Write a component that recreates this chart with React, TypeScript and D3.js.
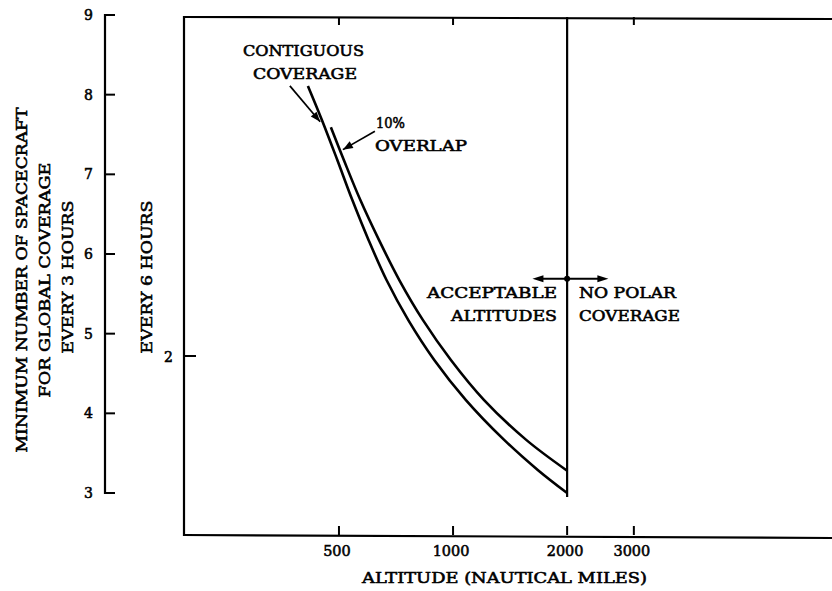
import React from "react";
import * as d3 from "d3";

// ---- data (altitude in nautical miles, N = spacecraft for every-3-hours coverage) ----
const contiguousAlt = [414, 451, 495, 542, 598, 668, 762, 892, 1080, 1362, 1673, 2000];
const contiguousN = [8.11, 7.68, 7.18, 6.68, 6.18, 5.67, 5.17, 4.67, 4.17, 3.67, 3.29, 3.0];
const overlapAlt = [476, 515, 569, 637, 722, 833, 987, 1206, 1557, 2000];
const overlapN = [7.59, 7.18, 6.68, 6.18, 5.67, 5.17, 4.67, 4.17, 3.67, 3.28];

const yTicks3h = [3, 4, 5, 6, 7, 8, 9];
const yTicks6hLabels = ["2"];
const yTicks6hValues = [4.72]; // position expressed in 3-hour units
const xTicksBottom = [500, 1000, 2000, 3000];
const xTicksTop = [500, 1000, 3000];
const limitAltitude = 2000;
const limitBottomN = 2.95;
const arrowN = 5.69;
const arrowAlts = [1620, 2570];

// annotation arrows [fromAlt, fromN, toAlt, toN]
const contiguousPointer = [371, 8.11, 446, 7.66];
const overlapPointer = [622, 7.54, 512, 7.31];

const W = 832;
const H = 591;
const FONT = "'DejaVu Serif', 'Liberation Serif', serif";

export default function App() {
  const x = d3.scaleLog().domain([195, 10000]).range([184, 832]);
  const y = d3.scaleLinear().domain([3, 9]).range([493, 15]);

  const line = d3
    .line<[number, number]>()
    .x((d) => x(d[0]))
    .y((d) => y(d[1]))
    .curve(d3.curveCatmullRom.alpha(0.5));

  const cPts = contiguousAlt.map((a, i) => [a, contiguousN[i]] as [number, number]);
  const oPts = overlapAlt.map((a, i) => [a, overlapN[i]] as [number, number]);

  const frameLeft = 184;
  const frameTop = 17;
  const frameBottom = 535;
  const axis3x = 105;

  const txt = (
    s: string,
    xx: number,
    yy: number,
    len: number | null,
    size = 14,
    extra: any = {}
  ) => (
    <text
      key={s + xx + yy}
      x={xx}
      y={yy}
      fontSize={size}
      fontFamily={FONT}
      textLength={len ?? undefined}
      lengthAdjust={len ? "spacingAndGlyphs" : undefined}
      fill="#000"
      stroke="#000"
      strokeWidth={0.55}
      {...extra}
    >
      {s}
    </text>
  );

  const arrowHead = (x1: number, y1: number, x2: number, y2: number, len = 9, wid = 3.5) => {
    const ang = Math.atan2(y2 - y1, x2 - x1);
    const bx = x2 - len * Math.cos(ang);
    const by = y2 - len * Math.sin(ang);
    const px = -Math.sin(ang) * wid;
    const py = Math.cos(ang) * wid;
    return `M${x2},${y2}L${bx + px},${by + py}L${bx - px},${by - py}Z`;
  };

  const pointer = (p: number[], key: string) => {
    const x1 = x(p[0]), y1 = y(p[1]), x2 = x(p[2]), y2 = y(p[3]);
    return (
      <g key={key}>
        <line x1={x1} y1={y1} x2={x2} y2={y2} stroke="#000" strokeWidth={1.7} />
        <path d={arrowHead(x1, y1, x2, y2, 10, 3.8)} fill="#000" />
      </g>
    );
  };

  const ax1 = x(arrowAlts[0]);
  const ax2 = x(arrowAlts[1]);
  const ay = y(arrowN);
  const xl = x(limitAltitude);

  return (
    <svg
      width={W}
      height={H}
      viewBox={`0 0 ${W} ${H}`}
      style={{ position: "fixed", left: 0, top: 0, background: "#fff" }}
    >
      <rect width={W} height={H} fill="#fff" />

      {/* 3-hour axis */}
      <line x1={axis3x} y1={y(9) - 1} x2={axis3x} y2={y(3) + 1} stroke="#000" strokeWidth={2.2} />
      {yTicks3h.map((t) => (
        <g key={"t3" + t}>
          <line x1={axis3x} x2={axis3x + 10} y1={y(t)} y2={y(t)} stroke="#000" strokeWidth={2} />
          {txt(String(t), 93, y(t) + 5, null, 14, { textAnchor: "end" })}
        </g>
      ))}

      {/* frame */}
      <line x1={frameLeft} y1={frameTop - 1} x2={frameLeft} y2={frameBottom + 1} stroke="#000" strokeWidth={2.2} />
      <line x1={frameLeft - 1} y1={frameTop} x2={W} y2={frameTop + 2} stroke="#000" strokeWidth={2.2} />
      <line x1={frameLeft - 1} y1={frameBottom} x2={W} y2={frameBottom + 3} stroke="#000" strokeWidth={2.2} />

      {/* 6-hour tick */}
      {yTicks6hValues.map((v, i) => (
        <g key={"t6" + i}>
          <line x1={frameLeft} x2={frameLeft + 12} y1={y(v)} y2={y(v)} stroke="#000" strokeWidth={2} />
          {txt(yTicks6hLabels[i], 173, y(v) + 6, null, 14, { textAnchor: "end" })}
        </g>
      ))}

      {/* x ticks */}
      {xTicksBottom.map((t) => (
        <g key={"xb" + t}>
          <line x1={x(t)} x2={x(t)} y1={frameBottom} y2={frameBottom - 9} stroke="#000" strokeWidth={2} />
          {txt(String(t), x(t) - 2, 556, String(t).length * 9.2, 14, { textAnchor: "middle" })}
        </g>
      ))}
      {xTicksTop.map((t) => (
        <line key={"xt" + t} x1={x(t)} x2={x(t)} y1={frameTop} y2={frameTop + 8} stroke="#000" strokeWidth={2} />
      ))}

      {/* limit line */}
      <line x1={xl} x2={xl} y1={frameTop} y2={y(limitBottomN)} stroke="#000" strokeWidth={2.2} />
      <line x1={ax1 + 6} x2={ax2 - 6} y1={ay} y2={ay} stroke="#000" strokeWidth={2} />
      <path d={arrowHead(xl, ay, ax1, ay, 11, 3.5)} fill="#000" />
      <path d={arrowHead(xl, ay, ax2, ay, 11, 3.5)} fill="#000" />
      <circle cx={xl} cy={ay} r={3} fill="#000" />

      {/* curves */}
      <path d={line(cPts) || ""} fill="none" stroke="#000" strokeWidth={2.6} />
      <path d={line(oPts) || ""} fill="none" stroke="#000" strokeWidth={2.6} />

      {/* pointers */}
      {pointer(contiguousPointer, "p1")}
      {pointer(overlapPointer, "p2")}

      {/* annotations */}
      {txt("CONTIGUOUS", 243, 56, 121)}
      {txt("COVERAGE", 253, 79, 104)}
      {txt("10%", 376, 128, 29)}
      {txt("OVERLAP", 375, 151, 92)}
      {txt("ACCEPTABLE", 427, 298, 130)}
      {txt("ALTITUDES", 451, 321, 106)}
      {txt("NO POLAR", 579, 298, 97)}
      {txt("COVERAGE", 579, 321, 101)}

      {/* axis titles */}
      {txt("ALTITUDE (NAUTICAL MILES)", 362, 583, 285)}
      <g transform="translate(27,280) rotate(-90)">
        {txt("MINIMUM NUMBER OF SPACECRAFT", 0, 0, 345, 14, { textAnchor: "middle" })}
      </g>
      <g transform="translate(50,280) rotate(-90)">
        {txt("FOR GLOBAL COVERAGE", 0, 0, 235, 14, { textAnchor: "middle" })}
      </g>
      <g transform="translate(73,277) rotate(-90)">
        {txt("EVERY 3 HOURS", 0, 0, 153, 14, { textAnchor: "middle" })}
      </g>
      <g transform="translate(152,277) rotate(-90)">
        {txt("EVERY 6 HOURS", 0, 0, 153, 14, { textAnchor: "middle" })}
      </g>
    </svg>
  );
}
